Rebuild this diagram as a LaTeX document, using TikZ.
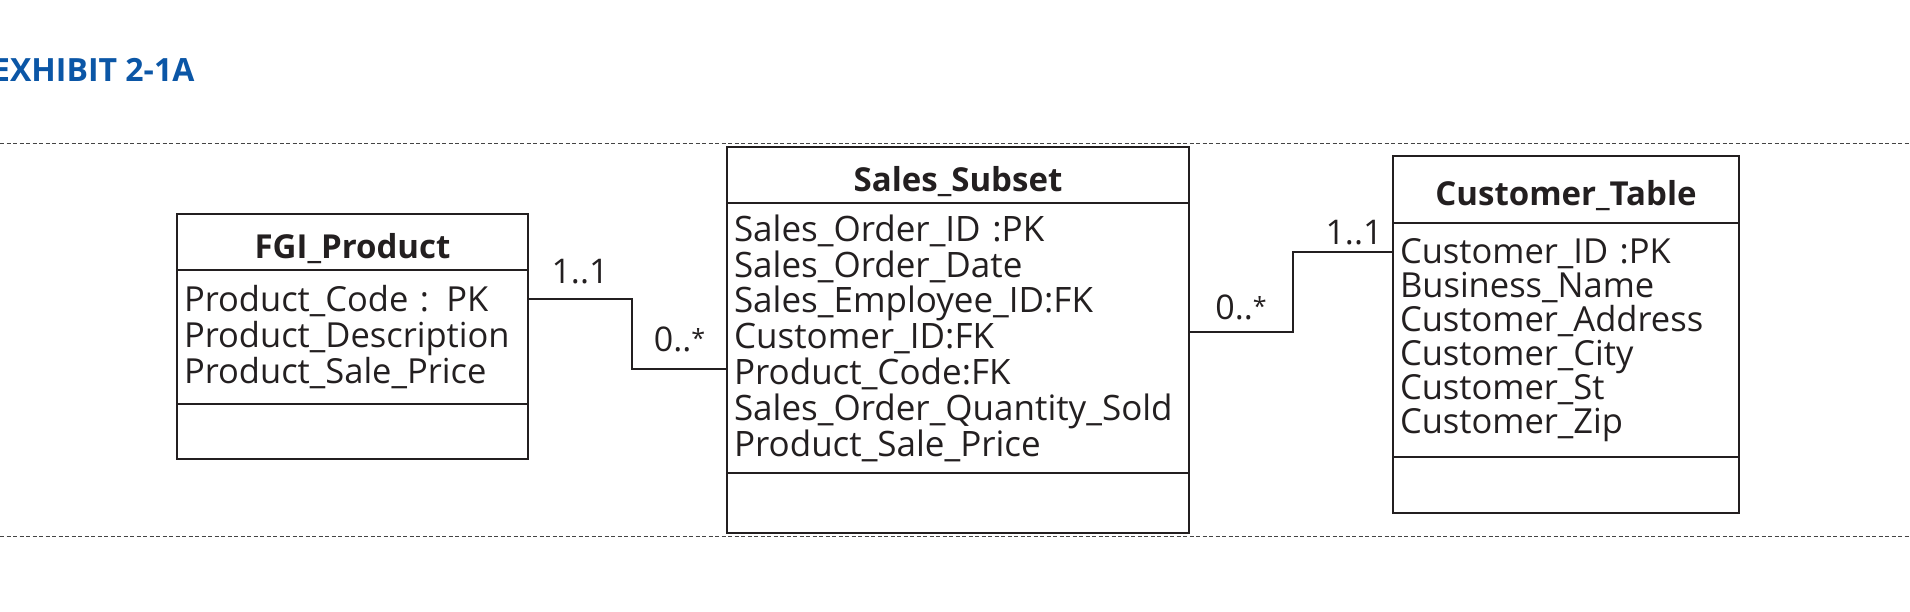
\documentclass[tikz,border=0pt]{standalone}
\usepackage{fontspec}
\setmainfont{Open Sans}
\usetikzlibrary{positioning}

\definecolor{exhibitblue}{HTML}{0B56A6}
\definecolor{inkdark}{HTML}{231F20}
\definecolor{rulegray}{HTML}{444444}

\begin{document}
\begin{tikzpicture}[
    x=1pt, y=-1pt,
    heading/.style={font=\fontsize{32}{36}\selectfont\bfseries, text=exhibitblue, inner sep=0pt, anchor=base west},
    separator/.style={draw=rulegray, line width=1pt, dash pattern=on 4pt off 2.5pt},
    tablehead/.style={rectangle, draw=inkdark, line width=1.8pt, outer sep=0pt, minimum width=#1, minimum height=56pt, text height=33pt, text depth=0pt, inner sep=0pt, font=\fontsize{33}{36}\selectfont\bfseries, text=inkdark, anchor=north west},
    tableattr/.style={rectangle, draw=inkdark, line width=1.8pt, outer sep=0pt, inner xsep=7pt, inner ysep=0pt, align=left, font=\fontsize{34.5}{35.8}\selectfont, text=inkdark},
    tableops/.style={rectangle, draw=inkdark, line width=1.8pt, outer sep=0pt, minimum width=#1, inner sep=0pt},
    link/.style={draw=inkdark, line width=1.8pt},
    mult/.style={font=\fontsize{34}{36}\selectfont, text=inkdark, inner sep=0pt}
]
\useasboundingbox (0,0) rectangle (1910,612);

% Exhibit title
\node[heading] (exhibit) at (-8,82) {EXHIBIT 2-1A};

% Dotted frame lines
\draw[separator] (0,144) -- (1910,144);
\draw[separator] (0,536) -- (1910,536);

% FGI_Product
\node[tablehead=351pt] (fgi) at (177,214) {FGI\_Product};
\node[tableattr, text width=337pt, minimum height=134pt, below=0pt of fgi] (fgi-attr) {Product\_Code : PK\\Product\_Description\\Product\_Sale\_Price};
\node[tableops=351pt, minimum height=55pt, below=0pt of fgi-attr] (fgi-ops) {};

% Sales_Subset
\node[tablehead=462pt] (sales) at (727,147) {Sales\_Subset};
\node[tableattr, text width=448pt, minimum height=270pt, font=\fontsize{35}{35.8}\selectfont, below=0pt of sales] (sales-attr) {Sales\_Order\_ID :PK\\Sales\_Order\_Date\\Sales\_Employee\_ID:FK\\Customer\_ID:FK\\Product\_Code:FK\\Sales\_Order\_Quantity\_Sold\\Product\_Sale\_Price};
\node[tableops=462pt, minimum height=60pt, below=0pt of sales-attr] (sales-ops) {};

% Customer_Table
\node[tablehead=346pt, minimum height=67pt] (cust) at (1393,156) {Customer\_Table};
\node[tableattr, text width=332pt, minimum height=234pt, font=\fontsize{34.5}{34}\selectfont, below=0pt of cust] (cust-attr) {Customer\_ID :PK\\Business\_Name\\Customer\_Address\\Customer\_City\\Customer\_St\\Customer\_Zip};
\node[tableops=346pt, minimum height=56pt, below=0pt of cust-attr] (cust-ops) {};

% Connectors
\draw[link] ([yshift=-29pt]fgi-attr.north east) -- node[mult, above=14pt] {1..1} ++(104,0) |- node[mult, above=16pt, pos=0.75] {0..\raisebox{4pt}{\fontsize{25}{25}\selectfont *}} ([yshift=-31pt]sales-attr.west);
\draw[link] ([yshift=-129pt]sales-attr.north east) -- node[mult, above=11pt] {0..\raisebox{4pt}{\fontsize{25}{25}\selectfont *}} ++(104,0) |- node[mult, above=6pt, pos=0.75, xshift=11pt] {1..1} ([yshift=-29pt]cust-attr.north west);

\end{tikzpicture}
\end{document}
